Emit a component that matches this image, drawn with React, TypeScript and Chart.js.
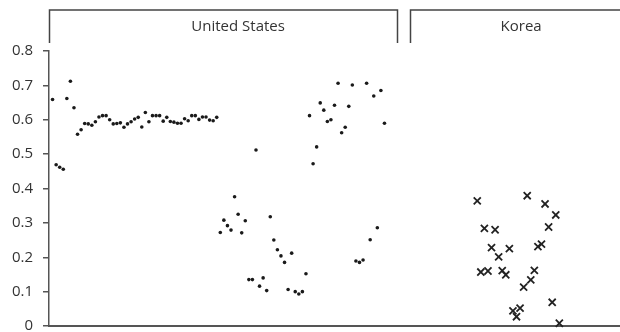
import React, { useEffect, useRef } from 'react';
import { Chart, registerables } from 'chart.js';

Chart.register(...registerables);

// Observation order positions (x) for each panel's first observation
const usStart = 1;
const koreaStart = 120;

const usValues = [
  0.659, 0.469, 0.462, 0.456, 0.662, 0.712, 0.635, 0.558, 0.571, 0.589,
  0.588, 0.584, 0.594, 0.608, 0.612, 0.612, 0.600, 0.588, 0.589, 0.591,
  0.578, 0.588, 0.594, 0.602, 0.607, 0.579, 0.621, 0.594, 0.612, 0.612,
  0.612, 0.596, 0.607, 0.595, 0.593, 0.590, 0.590, 0.603, 0.597, 0.612,
  0.612, 0.601, 0.608, 0.608, 0.599, 0.597, 0.607, 0.272, 0.308, 0.292,
  0.279, 0.376, 0.325, 0.271, 0.306, 0.135, 0.135, 0.512, 0.116, 0.140,
  0.103, 0.318, 0.250, 0.222, 0.204, 0.185, 0.106, 0.212, 0.100, 0.093,
  0.100, 0.152, 0.612, 0.472, 0.521, 0.649, 0.628, 0.595, 0.600, 0.642,
  0.706, 0.562, 0.578, 0.639, 0.701, 0.189, 0.185, 0.192, 0.706, 0.251,
  0.669, 0.286, 0.685, 0.590,
];

const koreaValues = [
  0.364, 0.157, 0.284, 0.160, 0.228, 0.280, 0.201, 0.161, 0.149, 0.225,
  0.044, 0.027, 0.052, 0.113, 0.379, 0.134, 0.162, 0.231, 0.238, 0.355,
  0.288, 0.069, 0.323, 0.008,
];

const yTicks = [0, 0.1, 0.2, 0.3, 0.4, 0.5, 0.6, 0.7, 0.8];
const panelLabels = ['United States', 'Korea'];

// panel header extents (in x-axis units) and label centres
const panelFrom = [0, 101.2];
const panelTo = [97.5, 170];
const panelLabelAt = [53, 132.3];

const FONT = "'Open Sans', 'DejaVu Sans', sans-serif";

const headerPlugin = {
  id: 'panelHeaders',
  afterDraw(chart: any) {
    const { ctx, chartArea, scales } = chart;
    const xs = scales.x;
    const top = chartArea.top - 41;
    const bottom = chartArea.top - 8;
    ctx.save();
    ctx.strokeStyle = '#444';
    ctx.lineWidth = 1.5;
    ctx.fillStyle = '#333';
    ctx.font = `15px ${FONT}`;
    ctx.textAlign = 'center';
    ctx.textBaseline = 'middle';
    panelLabels.forEach((label, i) => {
      const x0 = Math.round(xs.getPixelForValue(panelFrom[i])) + 0.5;
      const rawX1 = xs.getPixelForValue(panelTo[i]);
      const x1 = Math.min(Math.round(rawX1) + 0.5, chart.width + 2);
      ctx.beginPath();
      ctx.moveTo(x0, bottom);
      ctx.lineTo(x0, top);
      ctx.lineTo(x1, top);
      if (rawX1 <= chart.width) ctx.lineTo(x1, bottom);
      ctx.stroke();
      ctx.fillText(label, xs.getPixelForValue(panelLabelAt[i]), (top + bottom) / 2);
    });
    ctx.restore();
  },
};

export default function App() {
  const ref = useRef<HTMLCanvasElement | null>(null);

  useEffect(() => {
    document.body.style.margin = '0';
    const canvas = ref.current;
    if (!canvas) return;
    const chart = new Chart(canvas, {
      type: 'scatter',
      data: {
        datasets: [
          {
            label: panelLabels[0],
            data: usValues.map((v, i) => ({ x: usStart + i, y: v })),
            pointStyle: 'circle',
            pointRadius: 1.8,
            backgroundColor: '#1a1a1a',
            borderColor: '#1a1a1a',
            borderWidth: 0,
            clip: false,
          },
          {
            label: panelLabels[1],
            data: koreaValues.map((v, i) => ({ x: koreaStart + i, y: v })),
            pointStyle: 'crossRot',
            pointRadius: 5,
            borderColor: '#222',
            backgroundColor: '#222',
            borderWidth: 1.8,
            clip: false,
          },
        ],
      },
      options: {
        animation: false,
        responsive: false,
        events: [],
        layout: { autoPadding: false, padding: { top: 51, left: 0, right: 0, bottom: 6 } },
        plugins: {
          legend: { display: false },
          tooltip: { enabled: false },
        },
        scales: {
          x: {
            type: 'linear',
            min: 0,
            max: 160,
            ticks: { display: false },
            grid: { display: false, drawTicks: false },
            border: { display: true, color: '#555', width: 2 },
            afterFit: (s: any) => {
              s.height = 0;
              s.paddingLeft = 0;
              s.paddingRight = 0;
            },
          },
          y: {
            min: 0,
            max: 0.8,
            afterBuildTicks: (s: any) => {
              s.ticks = yTicks.map((v) => ({ value: v }));
            },
            ticks: {
              padding: 10,
              color: '#333',
              font: { family: FONT, size: 15 },
              callback: (v: any) => (Number(v) === 0 ? '0' : Number(v).toFixed(1)),
            },
            grid: {
              drawOnChartArea: false,
              drawTicks: true,
              tickLength: 6,
              color: '#555',
              lineWidth: 1.5,
            },
            border: { display: true, color: '#555', width: 1.5 },
            afterFit: (s: any) => {
              s.width = 49;
              s.paddingTop = 0;
              s.paddingBottom = 0;
            },
          },
        },
      },
      plugins: [headerPlugin],
    });
    return () => chart.destroy();
  }, []);

  return (
    <div style={{ width: 620, height: 332, background: '#fff' }}>
      <canvas ref={ref} width={620} height={332} style={{ display: 'block' }} />
    </div>
  );
}
